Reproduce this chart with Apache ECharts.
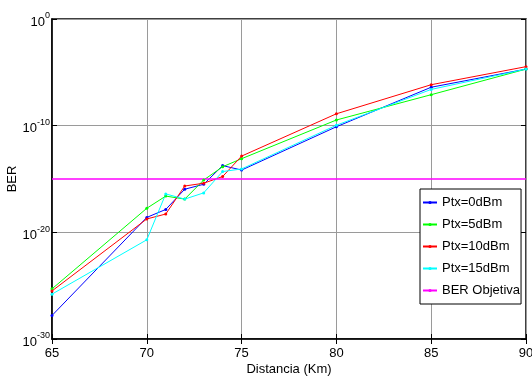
<!DOCTYPE html>
<html>
<head>
<meta charset="utf-8">
<script src="https://cdn.jsdelivr.net/npm/echarts@6/dist/echarts.min.js"></script>
<style>
  html, body { margin: 0; padding: 0; background: #fff; }
  #chart { width: 532px; height: 382px; }
</style>
</head>
<body>
<div id="chart"></div>
<script>
// distancia (km) y BER
const distancias = [65, 70, 71, 72, 73, 74, 75, 80, 85, 90];
const ber0dBm  = [1.6e-28, 2.5e-19, 1.4e-18, 1.1e-16, 3.2e-16, 1.8e-14, 6.9e-15, 7.9e-11, 4.0e-7, 2.0e-5];
const ber5dBm  = [5.0e-26, 1.8e-18, 2.5e-17, 1.3e-17, 8.0e-16, 1.4e-14, 8.0e-14, 3.4e-10, 8.0e-8, 2.0e-5];
const ber10dBm = [3.2e-26, 1.8e-19, 5.2e-19, 2.2e-16, 4.0e-16, 1.7e-15, 1.4e-13, 1.3e-9, 6.9e-7, 3.4e-5];
const ber15dBm = [1.6e-26, 2.0e-21, 4.0e-17, 1.3e-17, 5.0e-17, 5.0e-15, 8.7e-15, 1.1e-10, 2.5e-7, 2.0e-5];
const berObjetivaX = [65, 90];
const berObjetiva = [1e-15, 1e-15];

const nombres = ['Ptx=0dBm', 'Ptx=5dBm', 'Ptx=10dBm', 'Ptx=15dBm', 'BER Objetiva'];
const colores = ['#0000ff', '#00ff00', '#ff0000', '#00ffff', '#ff00ff'];

// 1e-30 da -29.999... con Math.log, se baja un poco para que salga la marca 10^-30
const berMin = 9.99e-31;
const berMax = 1;

const pares = (xs, ys) => xs.map((x, i) => [x, ys[i]]);

const serieBase = (nombre, color, datos) => ({
  name: nombre,
  type: 'line',
  data: datos,
  symbol: 'circle',
  symbolSize: 3,
  showSymbol: true,
  itemStyle: { color: color },
  lineStyle: { color: color, width: 1 },
  emphasis: { disabled: true },
  animation: false
});

const chart = echarts.init(document.getElementById('chart'), null, { renderer: 'canvas' });

const option = {
  animation: false,
  textStyle: { fontFamily: 'Liberation Sans, Arial, sans-serif' },
  grid: {
    left: 52, right: 6, top: 19, bottom: 43,
    containLabel: false,
    outerBoundsMode: 'none',
    show: true, borderColor: '#000', borderWidth: 1.5, backgroundColor: '#fff'
  },
  legend: {
    orient: 'vertical',
    left: 420,
    top: 189,
    padding: [7, 1, 7, 2],
    itemGap: 9,
    itemWidth: 14,
    itemHeight: 4,
    backgroundColor: '#fff',
    borderColor: '#000',
    borderWidth: 1,
    borderRadius: 0,
    textStyle: { fontSize: 13, color: '#000', fontFamily: 'Liberation Sans, Arial, sans-serif' },
    data: nombres
  },
  xAxis: [
    {
      type: 'value',
      min: 65, max: 90, interval: 5,
      name: 'Distancia (Km)',
      nameLocation: 'middle',
      nameGap: 24,
      nameMoveOverlap: false,
      nameTextStyle: { fontSize: 13, color: '#000' },
      axisLine: { show: true, onZero: false, lineStyle: { color: '#000', width: 1.5 } },
      axisTick: { show: true, inside: true, length: 5, lineStyle: { color: '#000' } },
      axisLabel: { fontSize: 13, color: '#000', margin: 8, showMinLabel: true, showMaxLabel: true, hideOverlap: false },
      splitLine: { show: true, lineStyle: { color: '#9a9a9a', width: 1 } }
    },
    {
      type: 'value', position: 'top',
      min: 65, max: 90, interval: 5,
      axisLine: { show: false },
      axisTick: { show: true, inside: true, length: 5, lineStyle: { color: '#000' } },
      axisLabel: { show: false },
      splitLine: { show: false }
    }
  ],
  yAxis: [
    {
      type: 'log',
      logBase: 10,
      min: berMin, max: berMax,
      splitNumber: 3,
      name: 'BER',
      nameLocation: 'middle',
      nameGap: 33,
      nameMoveOverlap: false,
      nameTextStyle: { fontSize: 13, color: '#000' },
      axisLine: { show: true, onZero: false, lineStyle: { color: '#000', width: 1.5 } },
      axisTick: { show: true, inside: true, length: 5, lineStyle: { color: '#000' } },
      minorTick: { show: false },
      splitLine: { show: true, lineStyle: { color: '#9a9a9a', width: 1 } },
      axisLabel: {
        margin: 2,
        showMinLabel: true,
        showMaxLabel: true,
        hideOverlap: false,
        formatter: (v) => '{b|10}{s|' + Math.round(Math.log10(v)) + '}',
        rich: {
          b: { fontSize: 13, color: '#000', padding: [6, 0, 0, 0] },
          s: { fontSize: 9, color: '#000', padding: [0, 0, 6, 0] }
        }
      }
    },
    {
      type: 'log', position: 'right',
      logBase: 10,
      min: berMin, max: berMax,
      splitNumber: 3,
      axisLine: { show: false },
      axisTick: { show: true, inside: true, length: 5, lineStyle: { color: '#000' } },
      axisLabel: { show: false },
      splitLine: { show: false }
    }
  ],
  series: [
    serieBase(nombres[0], colores[0], pares(distancias, ber0dBm)),
    serieBase(nombres[1], colores[1], pares(distancias, ber5dBm)),
    serieBase(nombres[2], colores[2], pares(distancias, ber10dBm)),
    serieBase(nombres[3], colores[3], pares(distancias, ber15dBm)),
    Object.assign(serieBase(nombres[4], colores[4], pares(berObjetivaX, berObjetiva)), {
      showSymbol: false, symbol: 'none',
      lineStyle: { color: colores[4], width: 1.5 }
    })
  ]
};

chart.setOption(option);
</script>
</body>
</html>
